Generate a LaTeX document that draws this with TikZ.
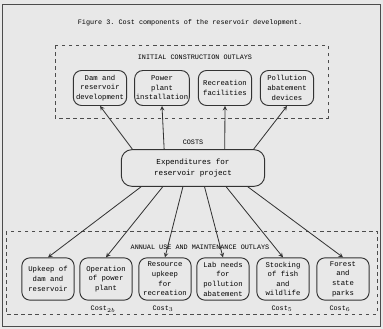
\documentclass[tikz,border=0pt]{standalone}
\usepackage{fontspec}
\setmonofont{Liberation Mono}
\usetikzlibrary{calc}

\begin{document}
\begin{tikzpicture}[x=0.03cm, y=-0.03cm, >=stealth,
    box/.style={draw=black!80, line width=0.8pt, rounded corners=7pt, align=center, inner sep=1pt,
        font=\fontsize{6.2}{8.2}\selectfont\ttfamily},
    lbl/.style={font=\fontsize{5.8}{6}\selectfont\ttfamily},
    link/.style={->, draw=black!80, line width=0.7pt}]
    \useasboundingbox (0,0) rectangle (383,329);
    \fill[gray!18] (0,0) rectangle (383,329);
    \draw[gray!60!black, line width=0.6pt] (2,4) rectangle (380,326);

    % Title
    \node[lbl] (title) at (190,23) {Figure 3. Cost components of the reservoir development.};

    % Initial construction outlays
    \draw[dashed, black!70, line width=0.5pt] (55,45) rectangle (328,118);
    \node[lbl] (initial) at (195,57) {INITIAL CONSTRUCTION OUTLAYS};
    \foreach \x/\t [count=\i] in {100/{Dam and\\reservoir\\development},
                                  162/{Power\\plant\\installation},
                                  225/{Recreation\\facilities},
                                  287/{Pollution\\abatement\\devices}}
        \node[box, minimum width=1.6cm, minimum height=1.05cm] (T\i) at (\x,88) {\t};

    % Costs
    \node[lbl] (costs) at (193,142) {COSTS};
    \node[box, minimum width=4.3cm, minimum height=1.1cm, rounded corners=9pt,
          font=\fontsize{6.5}{10}\selectfont\ttfamily] (C) at (193,168)
          {Expenditures for\\reservoir project};

    % Annual use and maintenance outlays
    \draw[dashed, black!70, line width=0.5pt] (6,231) rectangle (377,314);
    \node[lbl] (annual) at (200,247) {ANNUAL USE AND MAINTENANCE OUTLAYS};
    \foreach \x/\t [count=\i] in {48/{Upkeep of\\dam and\\reservoir},
                                  106/{Operation\\of power\\plant},
                                  165/{Resource\\upkeep\\for\\recreation},
                                  223/{Lab needs\\for\\pollution\\abatement},
                                  283/{Stocking\\of fish\\and\\wildlife},
                                  343/{Forest\\and\\state\\parks}}
        \node[box, minimum width=1.57cm, minimum height=1.27cm] (B\i) at (\x,279) {\t};

    % Cost labels
    \node[lbl] (cost2) at (103,309) {Cost$_{2b}$};
    \node[lbl] (cost3) at (163,309) {Cost$_{3}$};
    \node[lbl] (cost5) at (282,309) {Cost$_{5}$};
    \node[lbl] (cost6) at (340,309) {Cost$_{6}$};

    % Connections
    \foreach \f [count=\i] in {0.08,0.30,0.72,0.92} {
        \coordinate (cu\i) at ($(C.north west)!\f!(C.north east)$);
        \draw[link] (cu\i) -- (T\i.south);
    }
    \foreach \f [count=\i] in {0.14,0.29,0.43,0.58,0.73,0.88} {
        \coordinate (cd\i) at ($(C.south west)!\f!(C.south east)$);
        \draw[link] (cd\i) -- (B\i.north);
    }
\end{tikzpicture}
\end{document}
